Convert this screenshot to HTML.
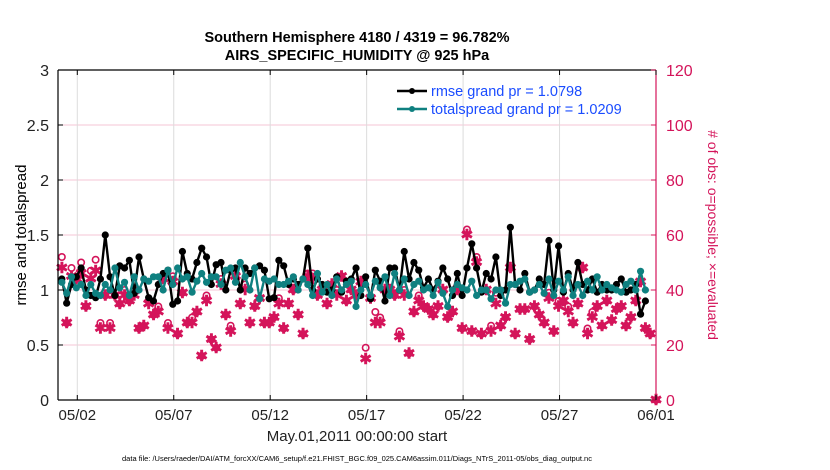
<!DOCTYPE html>
<html><head><meta charset="utf-8"><style>
body{margin:0;background:#fff;}
svg{display:block;font-family:"Liberation Sans",Arial,sans-serif;}
</style></head><body>
<svg id="chart" width="830" height="470" viewBox="0 0 830 470">
<text x="357" y="42" font-size="14.5" font-weight="bold" text-anchor="middle">Southern Hemisphere 4180 / 4319 = 96.782%</text>
<text x="357" y="60" font-size="14.5" font-weight="bold" text-anchor="middle">AIRS_SPECIFIC_HUMIDITY @ 925 hPa</text>
<g id="grid"></g>
<g id="marks"></g>
<g id="axes"></g>
<text transform="translate(26,235) rotate(-90)" font-size="15" text-anchor="middle">rmse and totalspread</text>
<text transform="translate(708,235) rotate(90)" font-size="14" fill="#d4145a" text-anchor="middle"># of obs: o=possible; ×=evaluated</text>
<text x="357" y="441" font-size="15" text-anchor="middle" fill="#222">May.01,2011 00:00:00 start</text>
<text x="357" y="461" font-size="7.5" text-anchor="middle">data file: /Users/raeder/DAI/ATM_forcXX/CAM6_setup/f.e21.FHIST_BGC.f09_025.CAM6assim.011/Diags_NTrS_2011-05/obs_diag_output.nc</text>
<g>
<line x1="397" y1="91" x2="427" y2="91" stroke="#000" stroke-width="2.5"/>
<circle cx="412" cy="91" r="3" fill="#000"/>
<text x="431" y="96" font-size="14.5" fill="#1a4cff">rmse grand pr = 1.0798</text>
<line x1="397" y1="109" x2="427" y2="109" stroke="#0f8080" stroke-width="2.5"/>
<circle cx="412" cy="109" r="3" fill="#0f8080"/>
<text x="431" y="114" font-size="14.5" fill="#1a4cff">totalspread grand pr = 1.0209</text>
</g>
</svg>
<script>
const leftTicks=[0,0.5,1,1.5,2,2.5,3];
const leftTickLabels=["0","0.5","1","1.5","2","2.5","3"];
const rightTicks=[0,20,40,60,80,100,120];
const dateTicks=[1,6,11,16,21,26,31];
const dateTickLabels=["05/02","05/07","05/12","05/17","05/22","05/27","06/01"];
const rmse=[1.1,0.88,1.05,1.12, 1.2,1.0,0.95,0.93, 1.1,1.5,1.12,0.95, 1.22,1.2,1.27,0.97, 1.3,1.1,0.93,0.9, 1.05,1.15,1.18,0.87, 0.9,1.35,1.15,1.1, 1.25,1.38,1.3,1.05, 1.23,1.25,1.0,1.18, 1.2,1.0,1.2,1.15, 1.2,1.22,1.18,0.92, 0.93,1.27,1.22,1.05, 1.1,1.05,1.1,1.38, 1.0,1.1,1.05,0.98, 1.0,1.12,0.98,1.08, 1.1,1.2,0.95,1.12, 0.92,1.18,1.08,0.9, 1.2,1.2,1.0,1.35, 1.1,1.25,1.18,1.02, 1.1,1.0,1.08,1.2, 1.1,0.95,1.15,0.95, 1.2,1.42,1.2,0.98, 1.15,1.1,1.3,0.95, 1.0,1.57,1.05,1.0, 1.15,0.98,1.0,1.1, 1.05,1.45,1.0,1.4, 0.98,1.15,1.0,1.25, 1.05,1.0,1.1,0.98, 1.05,1.0,1.0,1.05, 1.1,0.98,1.0,1.05, 0.78,0.9];
const spread=[1.07,0.97,1.12,1.02, 1.05,0.95,1.05,0.97, 0.95,1.05,1.0,1.2, 1.02,1.07,0.95,1.12, 1.0,1.1,1.08,1.12, 1.12,1.0,1.18,1.05, 1.2,1.1,1.12,0.98, 1.08,1.15,1.07,1.12, 1.12,1.05,1.18,1.2, 1.07,1.25,1.12,1.0, 1.2,0.92,1.1,1.08, 1.1,1.05,1.05,1.08, 1.12,1.0,1.1,1.05, 0.95,1.15,0.98,1.05, 0.95,1.1,1.0,1.05, 1.08,0.85,1.0,1.05, 0.95,1.08,1.02,1.12, 0.95,1.15,1.0,1.1, 0.95,1.05,1.08,1.0, 1.02,0.95,1.07,0.97, 0.85,1.0,1.05,1.02, 1.0,1.08,0.95,1.0, 1.0,0.92,1.0,1.0, 0.88,1.05,1.05,1.08, 1.1,0.98,1.0,1.05, 0.97,1.1,0.95,1.08, 1.0,1.12,0.95,1.05, 0.95,1.08,1.0,1.12, 1.0,1.05,1.02,1.0, 0.98,1.05,1.08,1.0, 1.17,1.0];
const evaluated=[48,28,45,44, 46,34,44,47, 26,38,26,38, 35,38,36,38, 26,27,35,31, 32,44,26,43, 24,39,28,28, 32,16,36,22, 19,42,31,25, 45,35,40,28, 34,37,28,28, 30,35,26,35, 40,31,24,45, 44,38,40,35, 42,38,45,36, 40,38,43,15, 37,28,28,40, 40,38,23,38, 17,32,36,34, 33,31,34,40, 30,32,40,26, 60,25,50,24, 40,25,35,27, 30,48,24,33, 33,22,34,31, 28,37,25,34, 36,32,28,35, 48,24,30,34, 27,36,29,33, 34,27,30,36, 43,26,24,0];
const possibleExtra=[4,0,3,0, 4,0,3,4, 2,0,2,0, 0,2,0,2, 0,0,1,0, 2,0,2,2, 0,0,0,2, 0,0,2,0, 0,2,0,2, 0,0,2,0, 0,0,0,0, 0,2,0,0, 0,0,0,1, 2,0,0,0, 0,2,0,0, 0,0,0,4, 0,4,2,0, 0,0,2,2, 0,0,2,0, 0,0,0,0, 0,0,0,0, 2,0,2,0, 0,2,4,0, 0,0,0,0, 0,0,0,0, 0,2,0,2, 0,2,0,0, 0,2,2,0, 0,0,0,0, 0,0,0,0, 0,0,0,0];
const X0=58,X1=656,Y0=400,Y1=70;
const xs=d=>X0+(d/31)*(X1-X0);
const yL=v=>Y0-(v/3)*(Y0-Y1);
const yR=v=>Y0-(v/120)*(Y0-Y1);
const NS="http://www.w3.org/2000/svg";
function mk(parent,tag,attrs){const e=document.createElementNS(NS,tag);for(const k in attrs)e.setAttribute(k,attrs[k]);parent.appendChild(e);return e;}
const grid=document.getElementById('grid'),marks=document.getElementById('marks'),axes=document.getElementById('axes');
leftTicks.forEach((v,i)=>{const l=mk(grid,'line',{x1:X0,x2:X1,y1:yL(v),y2:yL(v),stroke:'#f5c6d6','stroke-width':1});

});
dateTicks.forEach((d,i)=>{const l=mk(grid,'line',{x1:xs(d),x2:xs(d),y1:Y1,y2:Y0,stroke:'#dcdcdc','stroke-width':1});

});
const tf=i=>0.25*i+0.2;
evaluated.forEach((v,i)=>{const t=i<evaluated.length-1?tf(i):31;const x=xs(t),y=yR(v);
const p=v+possibleExtra[i];
const c=mk(marks,'circle',{cx:x,cy:yR(p),r:3.2,fill:'none',stroke:'#d4145a','stroke-width':1.6});


const s=mk(marks,'text',{x:x,y:y+5,'font-size':15,'font-weight':'bold',fill:'#d4145a','text-anchor':'middle'});s.textContent='✱';

});
function series(arr,col,name){const pts=arr.map((v,i)=>xs(tf(i))+','+yL(v)).join(' ');
const pl=mk(marks,'polyline',{points:pts,fill:'none',stroke:col,'stroke-width':2.4,'stroke-linejoin':'round'});


arr.forEach((v,i)=>{const c=mk(marks,'circle',{cx:xs(tf(i)),cy:yL(v),r:3.6,fill:col});

});}
series(rmse,'#000','rmse');
series(spread,'#0f8080','totalspread');
[[X0,Y0,X0,Y1,'#000','left-axis'],[X0,Y0,X1,Y0,'#000','bottom-axis'],[X0,Y1,X1,Y1,'#000','top-axis'],[X1,Y0,X1,Y1,'#d4145a','right-axis']].forEach(a=>{const l=mk(axes,'line',{x1:a[0],y1:a[1],x2:a[2],y2:a[3],stroke:a[4],'stroke-width':1.2});

});
leftTicks.forEach((v,i)=>{const t=mk(axes,'text',{x:X0-9,y:yL(v)+6,'font-size':16,'text-anchor':'end',fill:'#222'});t.textContent=leftTickLabels[i];


const k=mk(axes,'line',{x1:X0,x2:X0+5,y1:yL(v),y2:yL(v),stroke:'#000'});

});
rightTicks.forEach(v=>{const t=mk(axes,'text',{x:X1+10,y:yR(v)+6,'font-size':16,fill:'#d4145a'});t.textContent=String(v);


const k=mk(axes,'line',{x1:X1-5,x2:X1,y1:yR(v),y2:yR(v),stroke:'#d4145a'});

});
dateTicks.forEach((d,i)=>{const t=mk(axes,'text',{x:xs(d),y:Y0+20,'font-size':15,'text-anchor':'middle',fill:'#222'});t.textContent=dateTickLabels[i];


const kt=mk(axes,'line',{x1:xs(d),x2:xs(d),y1:Y1,y2:Y1+5,stroke:'#000'});


const kb=mk(axes,'line',{x1:xs(d),x2:xs(d),y1:Y0,y2:Y0-5,stroke:'#000'});

});
</script>
</body></html>
